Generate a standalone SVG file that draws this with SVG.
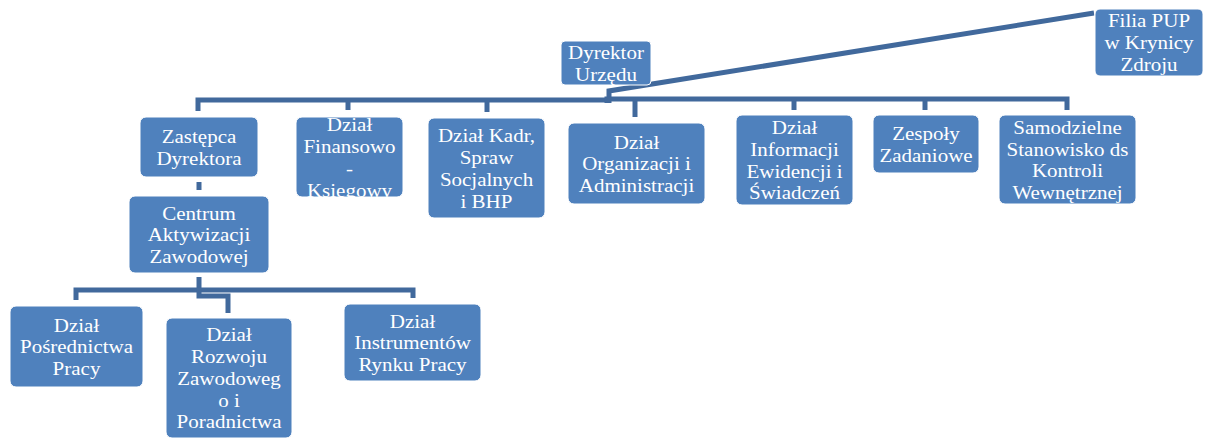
<svg xmlns="http://www.w3.org/2000/svg" width="1205" height="438" viewBox="0 0 1205 438">
<style>
.box{fill:#4f81bd;stroke:#ffffff;stroke-width:1}
.t{font-family:"Liberation Serif","Times New Roman",serif;font-size:19.5px;fill:#ffffff;text-anchor:middle}
.c{fill:none;stroke:#41699c;stroke-width:5;stroke-linejoin:miter}
</style>
<defs>
<clipPath id="clipFin"><rect x="296" y="117" width="107" height="80" rx="6"/></clipPath>
</defs>
<rect width="1205" height="438" fill="#ffffff"/>
<g id="connectors">
<path class="c" d="M1094,13 L609,91 V103"/>
<path class="c" d="M198,111 V100 H609"/>
<path class="c" d="M607,103 V99 H1067 V110"/>
<path class="c" d="M348,100 V110"/>
<path class="c" d="M487,100 V112"/>
<path class="c" d="M635,100 V117"/>
<path class="c" d="M794,99 V110"/>
<path class="c" d="M925,99 V110"/>
<path class="c" d="M199,182 V190"/>
<path class="c" d="M199,277 V290"/>
<path class="c" d="M76,300 V290 H413 V298"/>
<path class="c" d="M199,290 V296 H228 V313"/>
</g>
<g id="dyrektor">
<rect class="box" x="561" y="41" width="90" height="44" rx="4"/>
<g transform="translate(606,0) scale(1.077,1)">
<text class="t" x="0" y="59">Dyrektor</text>
<text class="t" x="0" y="80.7">Urzędu</text>
</g>
</g>
<g id="filia">
<rect class="box" x="1095" y="9" width="108" height="67" rx="5"/>
<g transform="translate(1149,0) scale(1.077,1)">
<text class="t" x="0" y="27.2">Filia PUP</text>
<text class="t" x="0" y="48.9">w Krynicy</text>
<text class="t" x="0" y="70.6">Zdroju</text>
</g>
</g>
<g id="zastepca">
<rect class="box" x="140" y="117" width="118" height="60" rx="6"/>
<g transform="translate(199,0) scale(1.077,1)">
<text class="t" x="0" y="143">Zastępca</text>
<text class="t" x="0" y="164.7">Dyrektora</text>
</g>
</g>
<g id="finansowo">
<rect class="box" x="296" y="117" width="107" height="80" rx="6"/>
<g clip-path="url(#clipFin)">
<g transform="translate(349.5,0) scale(1.077,1)">
<text class="t" x="0" y="131.5">Dział</text>
<text class="t" x="0" y="153.2">Finansowo</text>
<text class="t" x="0" y="174.9">-</text>
<text class="t" x="0" y="196.6">Księgowy</text>
</g>
</g>
</g>
<g id="kadr">
<rect class="box" x="428" y="118" width="117" height="100" rx="6"/>
<g transform="translate(486.5,0) scale(1.077,1)">
<text class="t" x="0" y="142.5">Dział Kadr,</text>
<text class="t" x="0" y="164.2">Spraw</text>
<text class="t" x="0" y="185.9">Socjalnych</text>
<text class="t" x="0" y="207.6">i BHP</text>
</g>
</g>
<g id="organizacji">
<rect class="box" x="568" y="123" width="137" height="81" rx="6"/>
<g transform="translate(636.5,0) scale(1.077,1)">
<text class="t" x="0" y="148.8">Dział</text>
<text class="t" x="0" y="170.5">Organizacji i</text>
<text class="t" x="0" y="192.2">Administracji</text>
</g>
</g>
<g id="informacji">
<rect class="box" x="736" y="115" width="117" height="90" rx="6"/>
<g transform="translate(794.5,0) scale(1.077,1)">
<text class="t" x="0" y="134.4">Dział</text>
<text class="t" x="0" y="156.1">Informacji</text>
<text class="t" x="0" y="177.8">Ewidencji i</text>
<text class="t" x="0" y="199.5">Świadczeń</text>
</g>
</g>
<g id="zespoly">
<rect class="box" x="873" y="115" width="106" height="58" rx="6"/>
<g transform="translate(926,0) scale(1.077,1)">
<text class="t" x="0" y="140.2">Zespoły</text>
<text class="t" x="0" y="161.9">Zadaniowe</text>
</g>
</g>
<g id="samodzielne">
<rect class="box" x="999" y="115" width="137" height="89" rx="6"/>
<g transform="translate(1067.5,0) scale(1.077,1)">
<text class="t" x="0" y="134">Samodzielne</text>
<text class="t" x="0" y="155.7">Stanowisko ds</text>
<text class="t" x="0" y="177.4">Kontroli</text>
<text class="t" x="0" y="199.1">Wewnętrznej</text>
</g>
</g>
<g id="centrum">
<rect class="box" x="129" y="196" width="140" height="77" rx="6"/>
<g transform="translate(199,0) scale(1.077,1)">
<text class="t" x="0" y="219.8">Centrum</text>
<text class="t" x="0" y="241.5">Aktywizacji</text>
<text class="t" x="0" y="263.2">Zawodowej</text>
</g>
</g>
<g id="posrednictwa">
<rect class="box" x="10" y="306" width="133" height="81" rx="6"/>
<g transform="translate(76.5,0) scale(1.077,1)">
<text class="t" x="0" y="331.8">Dział</text>
<text class="t" x="0" y="353.5">Pośrednictwa</text>
<text class="t" x="0" y="375.2">Pracy</text>
</g>
</g>
<g id="rozwoju">
<rect class="box" x="166" y="318" width="126" height="120" rx="6"/>
<g transform="translate(229,0) scale(1.077,1)">
<text class="t" x="0" y="341.5">Dział</text>
<text class="t" x="0" y="363.2">Rozwoju</text>
<text class="t" x="0" y="384.9">Zawodoweg</text>
<text class="t" x="0" y="406.6">o i</text>
<text class="t" x="0" y="428.3">Poradnictwa</text>
</g>
</g>
<g id="instrumentow">
<rect class="box" x="344" y="304" width="137" height="77" rx="6"/>
<g transform="translate(412.5,0) scale(1.077,1)">
<text class="t" x="0" y="327.8">Dział</text>
<text class="t" x="0" y="349.5">Instrumentów</text>
<text class="t" x="0" y="371.2">Rynku Pracy</text>
</g>
</g>
</svg>
